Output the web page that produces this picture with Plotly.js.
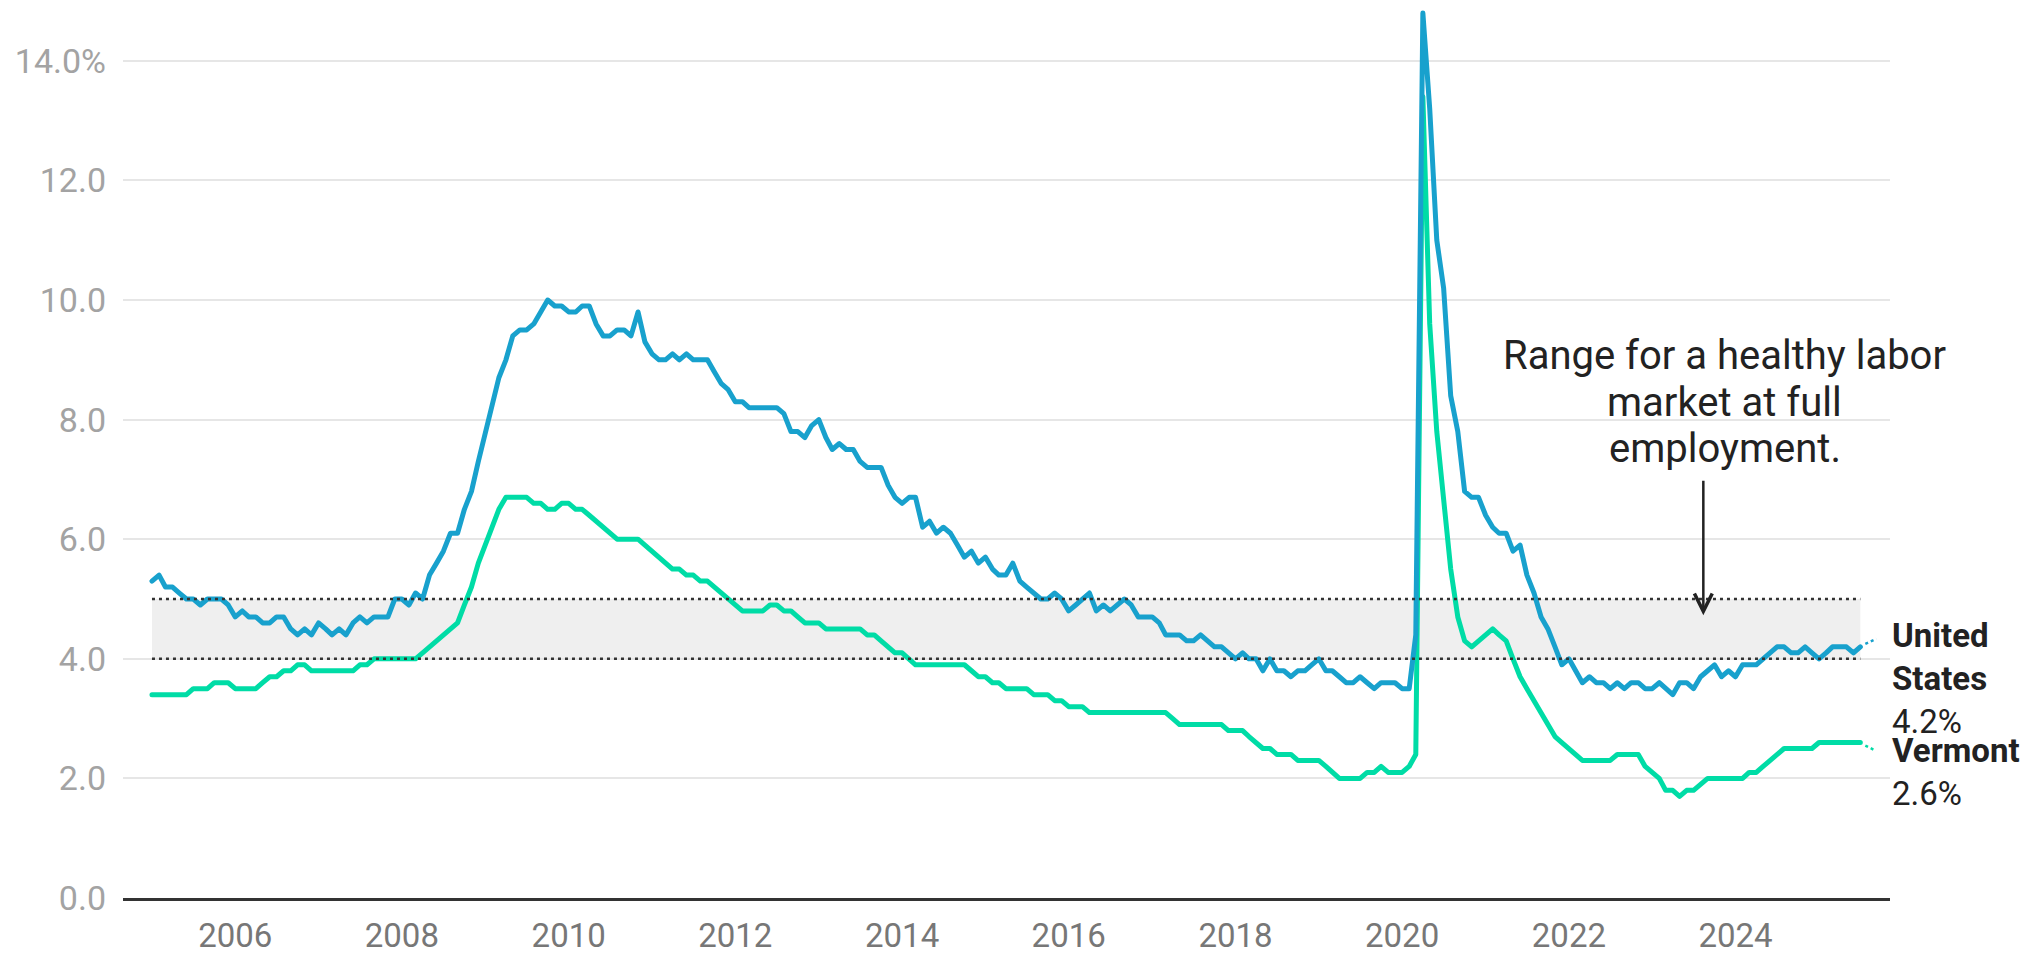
<!DOCTYPE html>
<html>
<head>
<meta charset="utf-8">
<script src="https://cdn.plot.ly/plotly-3.0.1.min.js"></script>
<style>
  html, body { margin: 0; padding: 0; background: #fff; }
  #chart { width: 2028px; height: 954px; }
  /* rounded joins like the original line renderer */
  .js-line { stroke-linejoin: round; stroke-linecap: round; }
</style>
</head>
<body>
<div id="chart"></div>
<script>
// Monthly unemployment rate, seasonally adjusted, Jan 2005 - Jul 2025
const START_YEAR = 2005;

const usRate = [
    5.3, 5.4, 5.2, 5.2, 5.1, 5.0, 5.0, 4.9, 5.0, 5.0, 5.0, 4.9, // 2005
    4.7, 4.8, 4.7, 4.7, 4.6, 4.6, 4.7, 4.7, 4.5, 4.4, 4.5, 4.4, // 2006
    4.6, 4.5, 4.4, 4.5, 4.4, 4.6, 4.7, 4.6, 4.7, 4.7, 4.7, 5.0, // 2007
    5.0, 4.9, 5.1, 5.0, 5.4, 5.6, 5.8, 6.1, 6.1, 6.5, 6.8, 7.3, // 2008
    7.8, 8.3, 8.7, 9.0, 9.4, 9.5, 9.5, 9.6, 9.8, 10.0, 9.9, 9.9, // 2009
    9.8, 9.8, 9.9, 9.9, 9.6, 9.4, 9.4, 9.5, 9.5, 9.4, 9.8, 9.3, // 2010
    9.1, 9.0, 9.0, 9.1, 9.0, 9.1, 9.0, 9.0, 9.0, 8.8, 8.6, 8.5, // 2011
    8.3, 8.3, 8.2, 8.2, 8.2, 8.2, 8.2, 8.1, 7.8, 7.8, 7.7, 7.9, // 2012
    8.0, 7.7, 7.5, 7.6, 7.5, 7.5, 7.3, 7.2, 7.2, 7.2, 6.9, 6.7, // 2013
    6.6, 6.7, 6.7, 6.2, 6.3, 6.1, 6.2, 6.1, 5.9, 5.7, 5.8, 5.6, // 2014
    5.7, 5.5, 5.4, 5.4, 5.6, 5.3, 5.2, 5.1, 5.0, 5.0, 5.1, 5.0, // 2015
    4.8, 4.9, 5.0, 5.1, 4.8, 4.9, 4.8, 4.9, 5.0, 4.9, 4.7, 4.7, // 2016
    4.7, 4.6, 4.4, 4.4, 4.4, 4.3, 4.3, 4.4, 4.3, 4.2, 4.2, 4.1, // 2017
    4.0, 4.1, 4.0, 4.0, 3.8, 4.0, 3.8, 3.8, 3.7, 3.8, 3.8, 3.9, // 2018
    4.0, 3.8, 3.8, 3.7, 3.6, 3.6, 3.7, 3.6, 3.5, 3.6, 3.6, 3.6, // 2019
    3.5, 3.5, 4.4, 14.8, 13.2, 11.0, 10.2, 8.4, 7.8, 6.8, 6.7, 6.7, // 2020
    6.4, 6.2, 6.1, 6.1, 5.8, 5.9, 5.4, 5.1, 4.7, 4.5, 4.2, 3.9, // 2021
    4.0, 3.8, 3.6, 3.7, 3.6, 3.6, 3.5, 3.6, 3.5, 3.6, 3.6, 3.5, // 2022
    3.5, 3.6, 3.5, 3.4, 3.6, 3.6, 3.5, 3.7, 3.8, 3.9, 3.7, 3.8, // 2023
    3.7, 3.9, 3.9, 3.9, 4.0, 4.1, 4.2, 4.2, 4.1, 4.1, 4.2, 4.1, // 2024
    4.0, 4.1, 4.2, 4.2, 4.2, 4.1, 4.2                          // 2025
];

const vtRate = [
    3.4, 3.4, 3.4, 3.4, 3.4, 3.4, 3.5, 3.5, 3.5, 3.6, 3.6, 3.6, // 2005
    3.5, 3.5, 3.5, 3.5, 3.6, 3.7, 3.7, 3.8, 3.8, 3.9, 3.9, 3.8, // 2006
    3.8, 3.8, 3.8, 3.8, 3.8, 3.8, 3.9, 3.9, 4.0, 4.0, 4.0, 4.0, // 2007
    4.0, 4.0, 4.0, 4.1, 4.2, 4.3, 4.4, 4.5, 4.6, 4.9, 5.2, 5.6, // 2008
    5.9, 6.2, 6.5, 6.7, 6.7, 6.7, 6.7, 6.6, 6.6, 6.5, 6.5, 6.6, // 2009
    6.6, 6.5, 6.5, 6.4, 6.3, 6.2, 6.1, 6.0, 6.0, 6.0, 6.0, 5.9, // 2010
    5.8, 5.7, 5.6, 5.5, 5.5, 5.4, 5.4, 5.3, 5.3, 5.2, 5.1, 5.0, // 2011
    4.9, 4.8, 4.8, 4.8, 4.8, 4.9, 4.9, 4.8, 4.8, 4.7, 4.6, 4.6, // 2012
    4.6, 4.5, 4.5, 4.5, 4.5, 4.5, 4.5, 4.4, 4.4, 4.3, 4.2, 4.1, // 2013
    4.1, 4.0, 3.9, 3.9, 3.9, 3.9, 3.9, 3.9, 3.9, 3.9, 3.8, 3.7, // 2014
    3.7, 3.6, 3.6, 3.5, 3.5, 3.5, 3.5, 3.4, 3.4, 3.4, 3.3, 3.3, // 2015
    3.2, 3.2, 3.2, 3.1, 3.1, 3.1, 3.1, 3.1, 3.1, 3.1, 3.1, 3.1, // 2016
    3.1, 3.1, 3.1, 3.0, 2.9, 2.9, 2.9, 2.9, 2.9, 2.9, 2.9, 2.8, // 2017
    2.8, 2.8, 2.7, 2.6, 2.5, 2.5, 2.4, 2.4, 2.4, 2.3, 2.3, 2.3, // 2018
    2.3, 2.2, 2.1, 2.0, 2.0, 2.0, 2.0, 2.1, 2.1, 2.2, 2.1, 2.1, // 2019
    2.1, 2.2, 2.4, 13.4, 9.6, 7.8, 6.6, 5.5, 4.7, 4.3, 4.2, 4.3, // 2020
    4.4, 4.5, 4.4, 4.3, 4.0, 3.7, 3.5, 3.3, 3.1, 2.9, 2.7, 2.6, // 2021
    2.5, 2.4, 2.3, 2.3, 2.3, 2.3, 2.3, 2.4, 2.4, 2.4, 2.4, 2.2, // 2022
    2.1, 2.0, 1.8, 1.8, 1.7, 1.8, 1.8, 1.9, 2.0, 2.0, 2.0, 2.0, // 2023
    2.0, 2.0, 2.1, 2.1, 2.2, 2.3, 2.4, 2.5, 2.5, 2.5, 2.5, 2.5, // 2024
    2.6, 2.6, 2.6, 2.6, 2.6, 2.6, 2.6                          // 2025
];

// Healthy labour market band (percent)
const bandLow = 4.0;
const bandHigh = 5.0;

const xTickYears = [2006, 2008, 2010, 2012, 2014, 2016, 2018, 2020, 2022, 2024];
const yTickValues = [0, 2, 4, 6, 8, 10, 12, 14];
const yTickLabels = ['0.0', '2.0', '4.0', '6.0', '8.0', '10.0', '12.0', '14.0%'];

// annotation text, one entry per line (tighter leading than plotly's default)
const noteLines = ['Range for a healthy labor', 'market at full', 'employment.'];

const US_COLOR = '#18a1cd';
const VT_COLOR = '#00dca6';
const FONT = 'Roboto, "Open Sans", sans-serif';

// month labels for the series (first of each month)
const months = usRate.map((_, i) => {
    const y = START_YEAR + Math.floor(i / 12);
    const m = String((i % 12) + 1).padStart(2, '0');
    return `${y}-${m}-01`;
});

const firstDate = months[0];
const lastDate = months[months.length - 1];
const usLast = usRate[usRate.length - 1];
const vtLast = vtRate[vtRate.length - 1];

const traces = [
    {
        x: months,
        y: vtRate,
        type: 'scatter',
        mode: 'lines',
        name: 'Vermont',
        line: { color: VT_COLOR, width: 5 },
        hoverinfo: 'skip',
    },
    {
        x: months,
        y: usRate,
        type: 'scatter',
        mode: 'lines',
        name: 'United States',
        line: { color: US_COLOR, width: 5 },
        hoverinfo: 'skip',
    },
];

const shapes = [
    // shaded band
    {
        type: 'rect', xref: 'x', yref: 'y',
        x0: firstDate, x1: lastDate, y0: bandLow, y1: bandHigh,
        fillcolor: '#efefef', line: { width: 0 }, layer: 'below',
    },
    // dotted band edges
    {
        type: 'line', xref: 'x', yref: 'y',
        x0: firstDate, x1: lastDate, y0: bandHigh, y1: bandHigh,
        line: { color: '#333', width: 2.5, dash: '3px,4px' }, layer: 'above',
    },
    {
        type: 'line', xref: 'x', yref: 'y',
        x0: firstDate, x1: lastDate, y0: bandLow, y1: bandLow,
        line: { color: '#333', width: 2.5, dash: '3px,4px' }, layer: 'above',
    },
    // little dashed connectors to the end labels
    {
        type: 'line', xref: 'x', yref: 'y',
        xsizemode: 'pixel', xanchor: lastDate, x0: 5, x1: 16,
        ysizemode: 'pixel', yanchor: usLast, y0: 3, y1: 8,
        line: { color: US_COLOR, width: 2.5, dash: '3px,3px' },
    },
    {
        type: 'line', xref: 'x', yref: 'y',
        xsizemode: 'pixel', xanchor: lastDate, x0: 5, x1: 15,
        ysizemode: 'pixel', yanchor: vtLast, y0: -3, y1: -8,
        line: { color: VT_COLOR, width: 2.5, dash: '3px,3px' },
    },
];

const noteAnnotations = noteLines.map((line, i) => ({
    xref: 'x', yref: 'y', x: '2023-11-15', y: 8.29,
    yshift: (1 - i) * 46.5,
    xanchor: 'center', yanchor: 'middle', showarrow: false, align: 'center',
    text: line,
    font: { family: FONT, size: 40, color: '#222' },
}));

const annotations = [
    ...noteAnnotations,
    {
        xref: 'x', yref: 'y', x: '2023-08-13', y: 4.73,
        ax: 0, ay: -136, text: '', showarrow: true,
        arrowhead: 5, arrowsize: 1.4, arrowwidth: 2.5, arrowcolor: '#222',
    },
    {
        xref: 'paper', yref: 'y', x: 1, y: usLast,
        xanchor: 'left', yanchor: 'top', yshift: 33, showarrow: false, align: 'left',
        text: `<b>United<br>States</b><br>${usLast.toFixed(1)}%`,
        font: { family: FONT, size: 33, color: '#222' },
    },
    {
        xref: 'paper', yref: 'y', x: 1, y: vtLast,
        xanchor: 'left', yanchor: 'top', yshift: 14, showarrow: false, align: 'left',
        text: `<b>Vermont</b><br>${vtLast.toFixed(1)}%`,
        font: { family: FONT, size: 33, color: '#222' },
    },
];

const layout = {
    width: 2028,
    height: 954,
    margin: { l: 123, r: 138, t: 1, b: 56 },
    paper_bgcolor: '#fff',
    plot_bgcolor: '#fff',
    showlegend: false,
    font: { family: FONT },
    xaxis: {
        type: 'date',
        range: ['2004-08-27', '2025-11-08'],
        tickvals: xTickYears.map(y => `${y}-01-01`),
        ticktext: xTickYears.map(String),
        showgrid: false,
        zeroline: false,
        showline: true,
        linecolor: '#333',
        linewidth: 3,
        ticks: '',
        ticklabelstandoff: 6,
        tickfont: { family: FONT, size: 33, color: '#777' },
        fixedrange: true,
    },
    yaxis: {
        range: [0, 15],
        tickvals: yTickValues,
        ticktext: yTickLabels,
        showgrid: true,
        gridcolor: '#e6e6e6',
        gridwidth: 2,
        zeroline: false,
        showline: false,
        ticks: '',
        ticklabelstandoff: 16,
        tickfont: { family: FONT, size: 34, color: '#a3a3a3' },
        fixedrange: true,
    },
    shapes,
    annotations,
};

Plotly.newPlot('chart', traces, layout, { displayModeBar: false, staticPlot: true });
</script>
</body>
</html>
